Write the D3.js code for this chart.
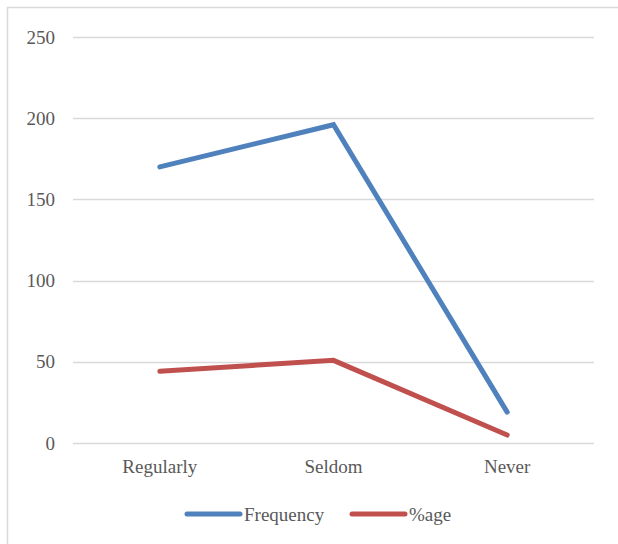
<!DOCTYPE html>
<html>
<head>
<meta charset="utf-8">
<script src="https://cdn.jsdelivr.net/npm/d3@7"></script>
<style>
  body { margin: 0; background: #fff; }
  text { font-family: "Liberation Serif", serif; fill: #595959; }
</style>
</head>
<body>
<svg width="618" height="544"></svg>
<script>
const categories = ["Regularly", "Seldom", "Never"]
const frequency = [170, 196, 19]
const percentage = [44.2, 50.9, 4.9]
const yTicks = [0, 50, 100, 150, 200, 250]

const seriesNames = ["Frequency", "%age"]
const seriesColors = ["#4F81BD", "#C0504D"]

const width = 618
const height = 544
const margin = { top: 37, right: 24, bottom: 101, left: 73 }

let svg = d3.select("svg")

// chart border (only top and left visible)
svg.append("path")
    .attr("d", "M7.5,544 L7.5,7.5 L618,7.5")
    .attr("fill", "none")
    .attr("stroke", "#d9d9d9")
    .attr("stroke-width", 1.5)

const xScale = d3.scalePoint()
    .domain(categories)
    .range([margin.left, width - margin.right])
    .padding(0.5)

const yScale = d3.scaleLinear()
    .domain([0, 250])
    .range([height - margin.bottom, margin.top])

// gridlines
svg.append("g")
    .selectAll("line")
    .data(yTicks)
    .enter()
    .append("line")
    .attr("x1", margin.left)
    .attr("x2", width - margin.right)
    .attr("y1", (d) => Math.round(yScale(d)) + 0.5)
    .attr("y2", (d) => Math.round(yScale(d)) + 0.5)
    .attr("stroke", "#d9d9d9")
    .attr("stroke-width", 1.5)

// y labels
svg.append("g")
    .selectAll("text")
    .data(yTicks)
    .enter()
    .append("text")
    .attr("x", 55)
    .attr("y", (d) => yScale(d))
    .attr("dy", "0.35em")
    .attr("text-anchor", "end")
    .style("font-size", "19px")
    .text((d) => d)

// x labels
svg.append("g")
    .selectAll("text")
    .data(categories)
    .enter()
    .append("text")
    .attr("x", (d) => xScale(d))
    .attr("y", 473)
    .attr("text-anchor", "middle")
    .style("font-size", "19px")
    .text((d) => d)

const line = d3.line()
    .x((d, i) => xScale(categories[i]))
    .y((d) => yScale(d))

const series = [frequency, percentage]
series.forEach(function (values, k) {
    svg.append("path")
        .datum(values)
        .attr("d", line)
        .attr("fill", "none")
        .attr("stroke", seriesColors[k])
        .attr("stroke-width", 5)
        .attr("stroke-linejoin", "miter")
        .attr("stroke-linecap", "round")
})

// legend
const legendX = [187, 352]
seriesNames.forEach(function (name, k) {
    const g = svg.append("g").attr("transform", "translate(" + legendX[k] + ",514)")
    g.append("line")
        .attr("x1", 0)
        .attr("x2", 53)
        .attr("stroke", seriesColors[k])
        .attr("stroke-width", 5)
        .attr("stroke-linecap", "round")
    g.append("text")
        .attr("x", 57)
        .attr("dy", "0.35em")
        .style("font-size", "19px")
        .text(name)
})
</script>
</body>
</html>
